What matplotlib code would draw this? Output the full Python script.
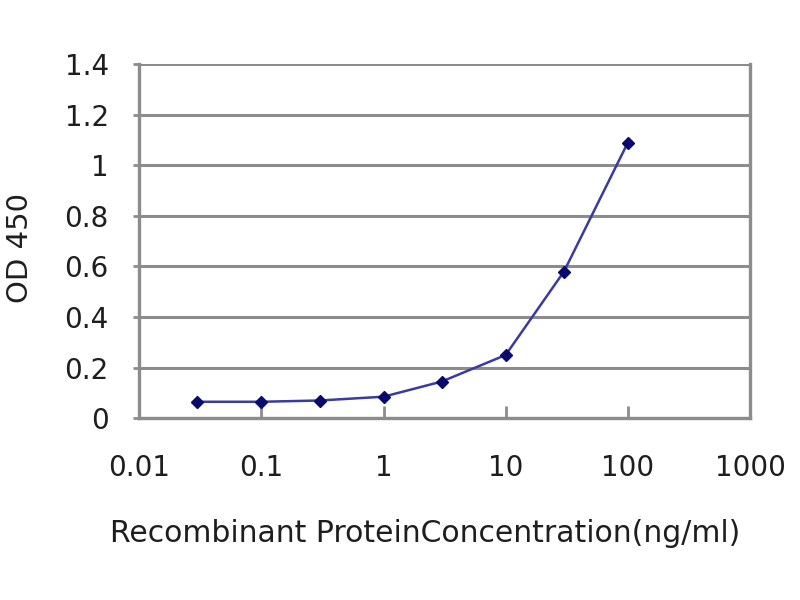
# ELISA standard curve: OD 450 vs recombinant protein concentration

import numpy as np
import matplotlib.pyplot as plt
from matplotlib.ticker import FixedLocator, FixedFormatter, NullLocator

plt.rcParams['font.family'] = ['DejaVu Sans']

# data
concentration = [0.03, 0.1, 0.3, 1, 3, 10, 30, 100]
od450 = [0.065, 0.065, 0.07, 0.085, 0.145, 0.25, 0.58, 1.09]

x_ticks = [0.01, 0.1, 1, 10, 100, 1000]
x_tick_labels = ['0.01', '0.1', '1', '10', '100', '1000']
y_ticks = [0, 0.2, 0.4, 0.6, 0.8, 1.0, 1.2, 1.4]
y_tick_labels = ['0', '0.2', '0.4', '0.6', '0.8', '1', '1.2', '1.4']

grid_grey = '#8c8c8c'
navy = '#0a0a6e'
text_col = '#1e1e1e'

fig = plt.figure(figsize=(8, 6), dpi=100)
ax = fig.add_axes([0.174, 0.303, 0.7635, 0.59])

ax.plot(concentration, od450, color='#3a3aa0', linewidth=1.8, zorder=3)
ax.plot(concentration, od450, linestyle='none', marker='D', markersize=6.5,
        color=navy, zorder=4)

ax.set_xscale('log')
ax.set_xlim(0.01, 1000)
ax.set_ylim(0, 1.4)

ax.xaxis.set_major_locator(FixedLocator(x_ticks))
ax.xaxis.set_major_formatter(FixedFormatter(x_tick_labels))
ax.xaxis.set_minor_locator(NullLocator())
ax.yaxis.set_major_locator(FixedLocator(y_ticks))
ax.yaxis.set_major_formatter(FixedFormatter(y_tick_labels))

ax.yaxis.grid(True, color=grid_grey, linewidth=2.2)
ax.set_axisbelow(True)

for side in ['left', 'bottom', 'right']:
    ax.spines[side].set_color(grid_grey)
    ax.spines[side].set_linewidth(2.4)
ax.spines['top'].set_visible(False)

ax.tick_params(axis='x', direction='in', length=9, width=2, color=grid_grey,
               labelsize=20, labelcolor=text_col, pad=26)
ax.tick_params(axis='y', direction='out', length=4, width=2, color=grid_grey,
               labelsize=20, labelcolor=text_col, pad=18)

fig.text(425 / 800, 1 - 533 / 600, 'Recombinant ProteinConcentration(ng/ml)',
         fontsize=21.5, color=text_col, ha='center', va='center')
fig.text(20 / 800, 1 - 248 / 600, 'OD 450', fontsize=21, color=text_col,
         rotation=90, ha='center', va='center')

plt.savefig('out.png', dpi=100)
